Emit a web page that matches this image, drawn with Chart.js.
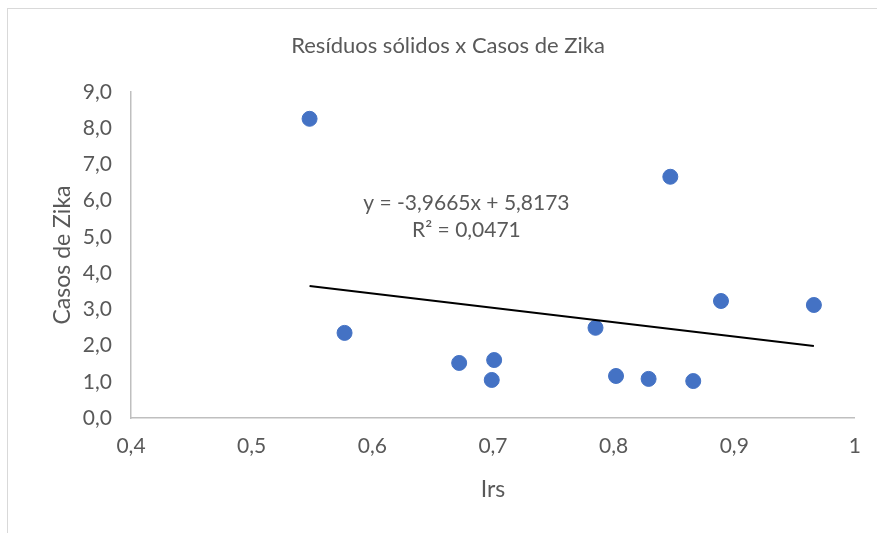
<!DOCTYPE html>
<html>
<head>
<meta charset="utf-8">
<script src="https://cdn.jsdelivr.net/npm/chart.js@4.4.0/dist/chart.umd.min.js"></script>
<style>
  html, body { margin: 0; padding: 0; background: #fff; }
  #wrap { position: relative; width: 877px; height: 533px; }
  #frame { position: absolute; left: 7px; top: 8px; width: 880px; height: 540px; border: 1px solid #d9d9d9; box-sizing: border-box; }
  canvas { position: absolute; left: 0; top: 0; }
</style>
</head>
<body>
<div id="wrap">
  <div id="frame"></div>
  <canvas id="myChart" width="877" height="533"></canvas>
</div>
<script>
  // Irs x Casos de Zika
  let irs = [0.548, 0.577, 0.672, 0.699, 0.701, 0.785, 0.802, 0.829, 0.847, 0.866, 0.889, 0.966];
  let casos = [8.26, 2.35, 1.52, 1.05, 1.60, 2.49, 1.16, 1.08, 6.66, 1.02, 3.23, 3.12];

  // linear trendline, as Excel reported it
  let slope = -3.9665;
  let intercept = 5.8173;
  let eqText = 'y = -3,9665x + 5,8173';
  let r2Text = 'R² = 0,0471';

  let xTicks = [0.4, 0.5, 0.6, 0.7, 0.8, 0.9, 1];
  let yTicks = [0, 1, 2, 3, 4, 5, 6, 7, 8, 9];

  let textColor = '#595959';
  let fontFamily = 'Lato, "Liberation Sans", sans-serif';

  let points = irs.map((x, i) => ({ x: x, y: casos[i] }));
  let xMin = Math.min(...irs);
  let xMax = Math.max(...irs);
  let trend = [
    { x: xMin, y: slope * xMin + intercept },
    { x: xMax, y: slope * xMax + intercept },
  ];

  // title and trendline label
  let textPlugin = {
    id: 'textPlugin',
    afterDraw(chart) {
      let ctx = chart.ctx;
      let xs = chart.scales.x;
      let ys = chart.scales.y;
      ctx.save();
      ctx.fillStyle = textColor;
      ctx.textAlign = 'center';
      ctx.textBaseline = 'middle';
      ctx.font = '22px ' + fontFamily;
      ctx.fillText('Resíduos sólidos x Casos de Zika', 448, 46);
      ctx.font = '21px ' + fontFamily;
      let lx = xs.getPixelForValue(0.678);
      ctx.fillText(eqText, lx, ys.getPixelForValue(5.93));
      ctx.fillText(r2Text, lx, ys.getPixelForValue(5.18));
      ctx.restore();
    },
  };

  let comma = (v) => String(v).replace('.', ',');

  let myChart = document.getElementById('myChart').getContext('2d');
  let chart = new Chart(myChart, {
    type: 'scatter',
    data: {
      datasets: [
        {
          label: 'Casos de Zika',
          data: points,
          backgroundColor: '#4472C4',
          borderColor: '#4472C4',
          pointRadius: 7.5,
          pointHoverRadius: 7.5,
          order: 2,
        },
        {
          label: 'Linear',
          type: 'line',
          data: trend,
          borderColor: '#000000',
          borderWidth: 2,
          pointRadius: 0,
          fill: false,
          order: 1,
        },
      ],
    },
    options: {
      responsive: false,
      animation: false,
      layout: { padding: { top: 92, right: 22, bottom: 30, left: 49 } },
      plugins: {
        legend: { display: false },
        title: { display: false },
        tooltip: { enabled: false },
      },
      scales: {
        x: {
          type: 'linear',
          min: 0.4,
          max: 1,
          afterBuildTicks: (scale) => { scale.ticks = xTicks.map((v) => ({ value: v })); },
          afterFit: (scale) => { scale.height = 85; },
          ticks: {
            color: textColor,
            font: { family: fontFamily, size: 21 },
            padding: 16,
            callback: (v) => comma(v),
          },
          grid: { display: false, drawTicks: false },
          border: { color: '#bfbfbf', width: 1.5 },
          title: {
            display: true,
            text: 'Irs',
            color: textColor,
            font: { family: fontFamily, size: 23 },
            padding: { top: 0, bottom: 0 },
          },
        },
        y: {
          min: 0,
          max: 9,
          afterBuildTicks: (scale) => { scale.ticks = yTicks.map((v) => ({ value: v })); },
          afterFit: (scale) => { scale.width = 82; },
          ticks: {
            color: textColor,
            font: { family: fontFamily, size: 21 },
            padding: 19,
            callback: (v) => comma(v.toFixed(1)),
          },
          grid: { display: false, drawTicks: false },
          border: { color: '#bfbfbf', width: 1.5 },
          title: {
            display: true,
            text: 'Casos de Zika',
            color: textColor,
            font: { family: fontFamily, size: 23 },
            padding: { top: 0, bottom: 0 },
          },
        },
      },
    },
    plugins: [textPlugin],
  });
</script>
</body>
</html>
